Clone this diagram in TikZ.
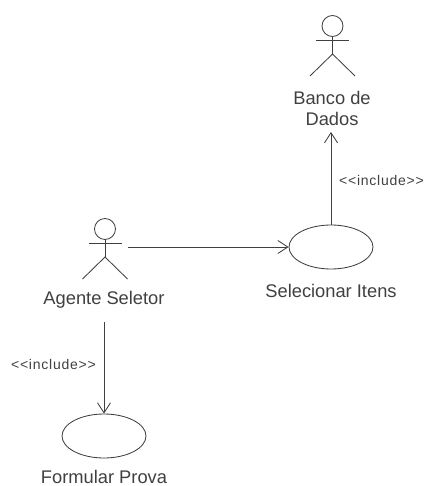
\documentclass[tikz,border=0pt]{standalone}
\usepackage{fontspec}
\setmainfont{Liberation Sans}
\usetikzlibrary{arrows.meta,shapes.geometric,calc}
\definecolor{ink}{gray}{0.25}
\tikzset{
  stroke/.style={draw=ink,line width=0.85pt},
  usecase/.style={ellipse,stroke,minimum width=84pt,minimum height=44pt,inner sep=0pt},
  lbl/.style={text=ink,inner sep=0pt,font=\fontsize{18.3}{21}\selectfont,align=center},
  stereo/.style={text=ink,inner sep=0pt,font=\fontsize{14}{16}\selectfont\addfontfeature{LetterSpace=5.5}},
  conn/.style={stroke,-{Straight Barb[length=10pt,width=13pt,line width=0.85pt]}},
  actorhead/.style={circle,stroke,minimum size=21pt,inner sep=0pt}
}
\newcommand{\actorfig}[3]{%
  \node[actorhead] (#3head) at (#1,#2) {};
  \coordinate (#3neck) at (#1,#2+14.5);
  \coordinate (#3hip) at (#1,#2+28);
  \draw[stroke] (#3head.south) -- (#3hip);
  \draw[stroke] ($(#3neck)+(-16.5,0)$) -- ($(#3neck)+(16.5,0)$);
  \draw[stroke] ($(#3hip)+(-22.5,22)$) -- (#3hip) -- ($(#3hip)+(22.5,22)$);
}
\begin{document}
\begin{tikzpicture}[x=1pt,y=-1pt]
\useasboundingbox (0,0) rectangle (425,486);
\actorfig{332.5}{26}{db}
\actorfig{105}{229}{ag}
\node[lbl] (dbtext) at (332,108.5) {Banco de\\Dados};
\node[lbl] (agtext) at (104,300) {Agente Seletor};
\node[usecase] (sel) at (331,247) {};
\node[usecase] (form) at (104,436) {};
\node[lbl] (seltext) at (331,291) {Selecionar Itens};
\node[lbl] (formtext) at (104,476.5) {Formular Prova};
\node[stereo] (inc1) at (381.5,180) {<{}<include>{}>};
\node[stereo] (inc2) at (53.5,364) {<{}<include>{}>};
\coordinate (agright) at (128,247);
\coordinate (agbottom) at (104,322);
\coordinate (dbbottom) at (331,132);
\draw[conn] (sel.north) -- (dbbottom);
\draw[conn] (agright) -- (sel.west);
\draw[conn] (agbottom) -- (form.north);
\end{tikzpicture}
\end{document}
